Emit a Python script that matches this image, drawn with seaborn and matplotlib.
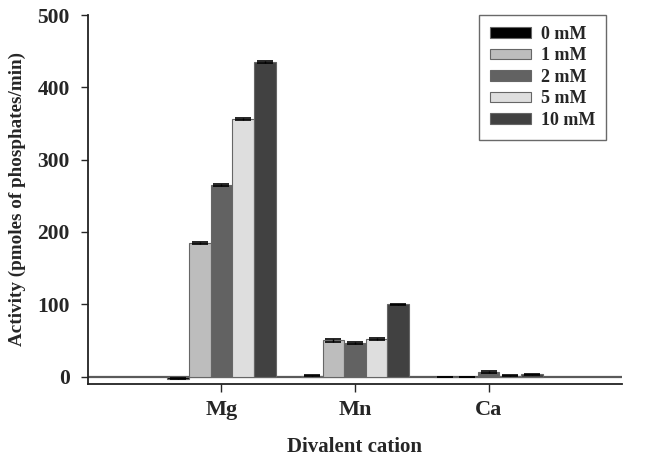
import numpy as np
import pandas as pd
import seaborn as sns
import matplotlib.pyplot as plt

# 数据：二价阳离子 × 浓度
cations = ['Mg', 'Mn', 'Ca']
conc = ['0 mM', '1 mM', '2 mM', '5 mM', '10 mM']
act_0 = [-3, 1, 0]
act_1 = [185, 50, 0]
act_2 = [265, 47, 6]
act_5 = [356, 52, 1]
act_10 = [435, 100, 3]
err_0 = [1, 0.5, 0]
err_1 = [1.5, 2, 0]
err_2 = [1.5, 1.5, 1.5]
err_5 = [1, 1.5, 0.5]
err_10 = [1.5, 1, 1]
colors = ['#000000', '#bdbdbd', '#626262', '#dedede', '#414141']

vals = [act_0, act_1, act_2, act_5, act_10]
errs = [err_0, err_1, err_2, err_5, err_10]
df = pd.DataFrame({
    'cation': cations * len(conc),
    'conc': [c for c in conc for _ in cations],
    'act': sum(vals, []),
    'err': sum(errs, []),
})

sns.set_style('ticks')
plt.rcParams['font.family'] = ['Liberation Serif', 'DejaVu Serif']
plt.rcParams['font.weight'] = 'bold'

fig = plt.figure(figsize=(6.46, 4.58), dpi=100)
ax = fig.add_axes([0.136, 0.162, 0.827, 0.805])

sns.barplot(data=df, x='cation', y='act', hue='conc', order=cations,
            hue_order=conc, palette=colors, width=0.81, errorbar=None,
            edgecolor='#666666', linewidth=0.8, saturation=1, ax=ax)

# 误差线（按柱子位置画）
for i, c in enumerate(conc):
    cont = ax.containers[i]
    xs = [p.get_x() + p.get_width() / 2 for p in cont.patches]
    ax.errorbar(xs, vals[i], yerr=errs[i], fmt='none', ecolor='black',
                elinewidth=1, capsize=6, capthick=1.2)

ax.axhline(0, color='#5a5a5a', lw=1.6, zorder=0.5)
ax.set_xlim(-1, 3)
ax.set_ylim(-10, 500)
ax.set_yticks([0, 100, 200, 300, 400, 500])
for s in ['top', 'right']:
    ax.spines[s].set_visible(False)
for s in ['left', 'bottom']:
    ax.spines[s].set_linewidth(1.3)
    ax.spines[s].set_color('#222222')
ax.tick_params(axis='y', direction='out', length=5, width=1, labelsize=15.5, pad=8)
ax.tick_params(axis='x', direction='out', length=6, width=1, labelsize=16, pad=6)
for t in ax.get_xticklabels() + ax.get_yticklabels():
    t.set_fontweight('bold')

ax.set_xlabel('Divalent cation', fontsize=15, fontweight='bold', labelpad=12)
ax.set_ylabel('Activity (pmoles of phosphates/min)', fontsize=13.8,
              fontweight='bold', labelpad=8)

leg = ax.legend(loc='upper right', bbox_to_anchor=(0.97, 1.0), fontsize=13,
                frameon=True, fancybox=False, edgecolor='#444444',
                handlelength=2.27, handleheight=0.5, handletextpad=0.55,
                borderpad=0.6, borderaxespad=0, labelspacing=0.25, title=None)
leg.get_frame().set_linewidth(1)
for t in leg.get_texts():
    t.set_fontweight('bold')

fig.savefig('out.png', dpi=100)
